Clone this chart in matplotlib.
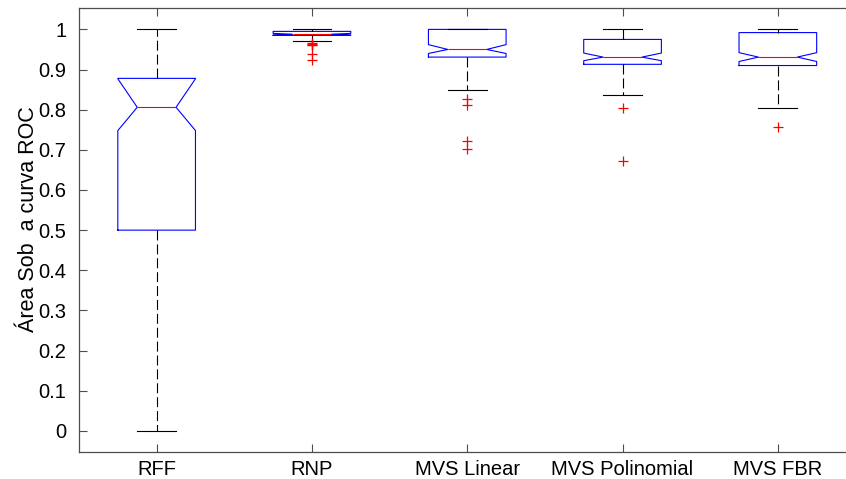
import matplotlib
matplotlib.use("Agg")
import matplotlib.pyplot as plt

plt.rcParams['font.family'] = ['Liberation Sans', 'DejaVu Sans']

categories = ["RFF", "RNP", "MVS Linear", "MVS Polinomial", "MVS FBR"]
whislo = [0.0, 0.971, 0.848, 0.837, 0.804]
q1 = [0.500, 0.985, 0.931, 0.913, 0.910]
med = [0.806, 0.988, 0.950, 0.931, 0.931]
q3 = [0.878, 0.995, 1.000, 0.975, 0.992]
whishi = [1.0, 1.0, 1.0, 1.0, 1.0]
cilo = [0.748, 0.986, 0.940, 0.922, 0.920]
cihi = [0.877, 0.990, 0.962, 0.941, 0.942]
outliers = [
    [],
    [0.966, 0.964, 0.962, 0.960, 0.939, 0.924],
    [0.826, 0.812, 0.722, 0.703],
    [0.805, 0.672],
    [0.756],
]
ytick_vals = [0, 0.1, 0.2, 0.3, 0.4, 0.5, 0.6, 0.7, 0.8, 0.9, 1]
ytick_labels = ["0", "0.1", "0.2", "0.3", "0.4", "0.5", "0.6", "0.7", "0.8", "0.9", "1"]

stats = []
for i, name in enumerate(categories):
    stats.append(dict(label=name, whislo=whislo[i], q1=q1[i], med=med[i],
                      q3=q3[i], whishi=whishi[i], cilo=cilo[i], cihi=cihi[i],
                      fliers=outliers[i]))

fig = plt.figure(figsize=(8.46, 4.79), dpi=100)
ax = fig.add_axes([79/846, 27/479, 776.5/846, 443.7/479])

lw = 0.8
ax.bxp(stats, positions=range(1, 6), widths=0.5, shownotches=True,
       capwidths=0.25,
       boxprops=dict(color='#0000ff', linewidth=lw),
       medianprops=dict(color='#ff0000', linewidth=lw),
       whiskerprops=dict(color='black', linewidth=lw, linestyle=(0, (9, 3.5))),
       capprops=dict(color='black', linewidth=lw),
       flierprops=dict(marker='+', markeredgecolor='#ff0000', markersize=7,
                       markeredgewidth=0.9, linestyle='none'))

ax.set_xlim(0.5, 5.5)
ax.set_ylim(-0.0525, 1.0525)
ax.set_yticks(ytick_vals)
ax.set_yticklabels(ytick_labels)
ax.set_xticks(range(1, 6))
ax.set_xticklabels(categories)
ax.tick_params(direction='in', length=6, width=0.8, colors='0.3',
               labelcolor='black', labelsize=14.5, top=True, right=True)
ax.tick_params(axis='y', pad=9)
ax.tick_params(axis='x', pad=6)
for s in ax.spines.values():
    s.set_color('0.3')
    s.set_linewidth(0.9)
ax.spines['right'].set_visible(False)
ax.set_ylabel("Área Sob  a curva ROC", fontsize=15.5)
ax.yaxis.set_label_coords(-0.051, 0.525)

fig.savefig("out.png", dpi=100)
